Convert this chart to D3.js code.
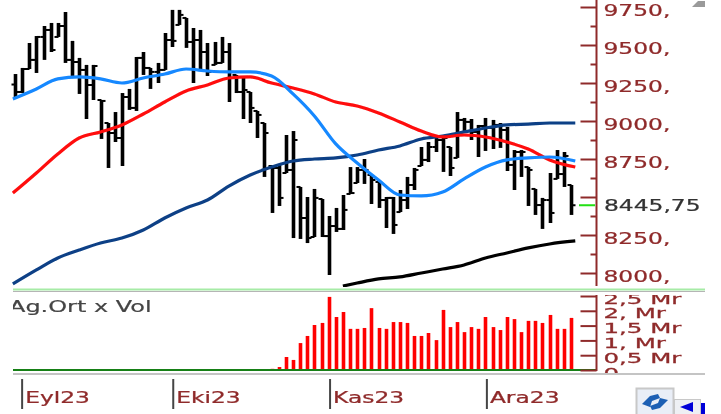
<!DOCTYPE html>
<html lang="en">
<head>
    <meta charset="UTF-8">
    <title>Fiyat grafigi</title>
    <script src="https://d3js.org/d3.v7.min.js"></script>
    <style>
        html, body { margin: 0; padding: 0; background: white; overflow: hidden; }
        svg { display: block; }
        text { font-family: "DejaVu Sans", sans-serif; font-size: 16px; }
    </style>
</head>
<body>
    <svg width="721" height="414"></svg>

    <script>
        // bars, one per trading day
        const highs = [9309,9349,9513,9559,9625,9645,9645,9717,9527,9415,
            9369,9369,9138,8987,9059,9184,9211,9421,9454,9349,
            9382,9579,9731,9731,9678,9612,9599,9513,9520,9553,
            9513,9303,9296,9191,9066,8987,8704,8711,8908,8934,
            8566,8500,8553,8487,8375,8428,8513,8697,8697,8750,
            8645,8599,8500,8500,8546,8632,8691,8829,8862,8908,
            8895,8829,9059,9020,9013,8974,9020,9007,8987,8961,
            8809,8809,8697,8553,8494,8658,8809,8796,8579];
        const lows = [9158,9184,9342,9316,9402,9454,9553,9382,9296,9178,
            9013,9138,8882,8691,8862,8704,9073,9066,9303,9211,
            9250,9336,9487,9632,9481,9250,9336,9296,9369,9382,
            9125,9184,9013,8987,8888,8632,8395,8441,8658,8230,
            8224,8197,8237,8237,7987,8270,8283,8520,8592,8586,
            8454,8428,8296,8257,8401,8421,8546,8704,8730,8796,
            8665,8638,8757,8921,8875,8763,8803,8816,8823,8671,
            8546,8632,8441,8382,8290,8329,8619,8566,8382];
        const closes = [9191,9342,9402,9553,9599,9467,9625,9402,9388,9336,
            9237,9362,9132,8921,8888,9158,9086,9415,9349,9323,
            9336,9533,9527,9698,9520,9533,9454,9323,9382,9454,
            9323,9191,9204,9086,9040,8921,8691,8494,8678,8875,
            8362,8230,8494,8243,8309,8290,8415,8526,8678,8678,
            8612,8480,8494,8316,8480,8579,8678,8744,8829,8875,
            8888,8691,9007,8994,8928,8967,8954,8974,8941,8711,
            8796,8796,8678,8447,8480,8395,8651,8770,8445.75];
        const firstOpen = 9240;

        // moving averages, read every third bar
        const maIndex = [-0.3,3,6,9,12,15,18,21,24,27,30,33,36,39,42,45,48,51,54,57,60,63,66,69,72,75,78.6];
        const maBlue = [9145,9211,9277,9290,9277,9250,9283,9309,9342,9329,9323,9323,9296,9178,9033,8849,8724,8612,8513,8507,8533,8619,8697,8744,8757,8763,8737];
        const maRed = [8526,8658,8783,8888,8928,8974,9046,9125,9198,9237,9283,9290,9250,9217,9178,9125,9099,9053,8994,8934,8895,8908,8895,8862,8816,8744,8697];
        const maNavy = [7928,8020,8099,8151,8197,8230,8283,8362,8428,8480,8572,8645,8697,8737,8750,8757,8776,8809,8836,8882,8901,8928,8954,8974,8980,8987,8987];
        const blackIndex = [46,48,51,54,57,60,63,66,69,72,75,78.6];
        const maBlack = [7914,7934,7961,7974,8000,8026,8053,8099,8132,8165,8191,8211];

        // volume in Mr
        const volumes = [.01,.01,.01,.01,.01,.01,.01,.01,.01,.01,.01,.01,.01,.01,.01,.01,.01,.01,.01,.01,.01,.01,.02,.02,.02,.02,.03,.02,.02,.03,.02,.03,.03,.03,.03,.02,.04,
            .10,.44,.34,.91,1.15,1.52,1.59,2.47,1.79,1.96,1.39,1.39,1.42,2.09,1.42,1.39,1.62,1.62,1.59,1.15,
            1.15,1.25,1.01,2.03,1.45,1.62,1.28,1.45,1.39,1.79,1.45,1.35,1.79,1.72,1.28,1.66,1.66,1.59,1.86,1.39,1.39,1.76];

        const priceTicks = [9750,9500,9250,9000,8750,8500,8250,8000];
        const priceMinor = [9625,9375,9125,8875,8625,8375,8125];
        const volTicks = [0,0.5,1,1.5,2,2.5];
        const volLabels = ["0","0,5 Mr","1, Mr","1,5 Mr","2, Mr","2,5 Mr"];
        const months = [{ i: 1, name: "Eyl23" }, { i: 22.2, name: "Eki23" }, { i: 44.2, name: "Kas23" }, { i: 66.2, name: "Ara23" }];
        const lastPrice = 8445.75;

        const brown = "#8f2a2a";
        const svg = d3.select("svg");

        const x = d3.scaleLinear().domain([0, 78]).range([15, 571]);
        const px = i => Math.round(x(i)) + 0.5;
        const y = d3.scaleLinear().domain([8000, 9750]).range([273, 7]);
        const yVol = d3.scaleLinear().domain([0, 2.5]).range([370, 296]);

        // soft edges, the reference is a scaled up screenshot
        const defs = svg.append("defs");
        defs.append("filter").attr("id", "soft").append("feGaussianBlur").attr("stdDeviation", 0.4);
        defs.append("clipPath").attr("id", "priceClip").append("rect")
            .attr("x", 0).attr("y", 0).attr("width", 721).attr("height", 287);
        defs.append("clipPath").attr("id", "volClip").append("rect")
            .attr("x", 13).attr("y", 295).attr("width", 708).attr("height", 78);

        const root = svg.append("g").attr("filter", "url(#soft)");
        const pricePane = root.append("g").attr("clip-path", "url(#priceClip)");
        const volPane = root.append("g").attr("clip-path", "url(#volClip)");

        // bars
        const bars = pricePane.append("g").selectAll("g").data(closes).enter().append("g");
        bars.append("line").attr("stroke", "black").attr("stroke-width", 3.6)
            .attr("x1", (d, i) => px(i)).attr("x2", (d, i) => px(i))
            .attr("y1", (d, i) => y(highs[i])).attr("y2", (d, i) => y(lows[i]));
        bars.append("line").attr("stroke", "black").attr("stroke-width", 2)
            .attr("x1", (d, i) => px(i) - 4).attr("x2", (d, i) => px(i))
            .attr("y1", (d, i) => y(openOf(i))).attr("y2", (d, i) => y(openOf(i)));
        bars.append("line").attr("stroke", "black").attr("stroke-width", 2)
            .attr("x1", (d, i) => px(i)).attr("x2", (d, i) => px(i) + 4)
            .attr("y1", d => y(d)).attr("y2", d => y(d));

        function openOf(i) {
            const prev = i == 0 ? firstOpen : closes[i - 1];
            return Math.max(lows[i], Math.min(highs[i], prev));
        }

        // moving averages
        const maLine = d3.line().x(d => x(d[0])).y(d => y(d[1])).curve(d3.curveMonotoneX);
        const maSeries = [
            { idx: maIndex, vals: maNavy, color: "#0b3f86" },
            { idx: maIndex, vals: maRed, color: "#ff0a0a" },
            { idx: maIndex, vals: maBlue, color: "#1488ff" },
            { idx: blackIndex, vals: maBlack, color: "black" }
        ];
        pricePane.selectAll(".ma").data(maSeries).enter().append("path")
            .attr("class", "ma")
            .attr("fill", "none")
            .attr("stroke-width", 3.2)
            .attr("stroke", d => d.color)
            .attr("d", d => maLine(d.vals.map((v, i) => [d.idx[i], v])));

        // price axis
        const priceAxis = root.append("g").attr("transform", "translate(596.5,0)")
            .call(d3.axisRight(y).tickValues(priceTicks).tickSize(-16).tickPadding(0).tickFormat(d => d + ","));
        priceAxis.select(".domain").remove();
        priceAxis.selectAll("line").attr("stroke", brown).attr("stroke-width", 2);
        priceAxis.selectAll("text")
            .text(d => d == 8500 ? "" : d + ",")
            .attr("x", 0).attr("dy", 0).attr("y", 0)
            .attr("fill", brown)
            .attr("stroke", brown).attr("stroke-width", 0.25)
            .attr("transform", "translate(7,8) scale(1.46,1)");
        const minorAxis = root.append("g").attr("transform", "translate(596.5,0)")
            .call(d3.axisRight(y).tickValues(priceMinor).tickSize(-6).tickFormat(""));
        minorAxis.select(".domain").remove();
        minorAxis.selectAll("line").attr("stroke", brown).attr("stroke-width", 2);
        root.append("line").attr("x1", 596.5).attr("x2", 596.5).attr("y1", 0).attr("y2", 286)
            .attr("stroke", brown).attr("stroke-width", 2);

        // last price marker
        root.append("line").attr("x1", 579).attr("x2", 595)
            .attr("y1", y(lastPrice)).attr("y2", y(lastPrice))
            .attr("stroke", "#22e016").attr("stroke-width", 2);
        root.append("text").text("8445,75")
            .attr("fill", "#333").attr("stroke", "#333").attr("stroke-width", 0.25)
            .attr("transform", `translate(604,${y(lastPrice) + 6}) scale(1.46,1)`);

        // pane borders
        root.append("line").attr("x1", 13).attr("x2", 705).attr("y1", 289.5).attr("y2", 289.5)
            .attr("stroke", "#a6eba6").attr("stroke-width", 2);
        root.append("line").attr("x1", 13).attr("x2", 705).attr("y1", 291.5).attr("y2", 291.5)
            .attr("stroke", "#b5b5b5").attr("stroke-width", 1);
        root.append("line").attr("x1", 13).attr("x2", 705).attr("y1", 374).attr("y2", 374)
            .attr("stroke", "#c4c4c4").attr("stroke-width", 2);

        // volume pane
        volPane.append("text").text("Ag.Ort x Vol")
            .attr("fill", "#444").attr("stroke", "#444").attr("stroke-width", 0.2)
            .attr("transform", "translate(9,312) scale(1.5,1)");
        volPane.selectAll(".vol").data(volumes).enter().append("line")
            .attr("class", "vol")
            .attr("stroke", "#ff0000").attr("stroke-width", 3.6)
            .attr("x1", (d, i) => px(i)).attr("x2", (d, i) => px(i))
            .attr("y1", yVol(0)).attr("y2", d => yVol(d));
        volPane.append("line").attr("x1", 13).attr("x2", 596).attr("y1", 370).attr("y2", 370)
            .attr("stroke", "#128012").attr("stroke-width", 2);
        const volAxis = volPane.append("g").attr("transform", "translate(596.5,0)")
            .call(d3.axisRight(yVol).tickValues(volTicks).tickSize(-16).tickFormat((d, i) => volLabels[i]));
        volAxis.select(".domain").remove();
        volAxis.selectAll("line").attr("stroke", brown).attr("stroke-width", 2);
        volAxis.selectAll("text")
            .attr("x", 0).attr("dy", 0).attr("y", 0)
            .attr("fill", brown)
            .style("font-size", "12.5px")
            .attr("stroke", brown).attr("stroke-width", 0.25)
            .attr("transform", "translate(7,7) scale(1.96,1.1)");
        volPane.append("line").attr("x1", 596.5).attr("x2", 596.5).attr("y1", 295).attr("y2", 371)
            .attr("stroke", brown).attr("stroke-width", 2);

        // months
        const monthG = root.selectAll(".month").data(months).enter().append("g").attr("class", "month");
        monthG.append("line").attr("stroke", "#444").attr("stroke-width", 2)
            .attr("x1", d => x(d.i)).attr("x2", d => x(d.i)).attr("y1", 379).attr("y2", 409);
        monthG.append("text").text(d => d.name)
            .attr("fill", brown).attr("stroke", brown).attr("stroke-width", 0.25)
            .attr("transform", d => `translate(${x(d.i) + 3},403) scale(1.46,1)`);

        // scrollbar bits left in the screenshot
        root.append("path").attr("d", "M692,7 L698,1 L705,1 L705,7 Z").attr("fill", "#9a9a9a");
        root.append("rect").attr("x", 636.5).attr("y", 388.5).attr("width", 37).attr("height", 30)
            .attr("fill", "#e9eef7").attr("stroke", "#c8c8c8").attr("stroke-width", 2);
        root.append("path").attr("fill", "#1c5fb4")
            .attr("d", "M642,404 L650,396 L658,394 L660,398 L652,401 L650,407 Z M668,400 L660,408 L652,410 L650,406 L658,403 L660,398 Z");
        root.append("rect").attr("x", 674.5).attr("y", 399.5).attr("width", 26).attr("height", 20)
            .attr("fill", "#eef0f4").attr("stroke", "#c8c8c8").attr("stroke-width", 1);
        root.append("path").attr("d", "M680,407 L693,402 L693,412 Z").attr("fill", "#0000d8");
        root.append("rect").attr("x", 701).attr("y", 403).attr("width", 4).attr("height", 11).attr("fill", "#0000d8");
    </script>
</body>
</html>
